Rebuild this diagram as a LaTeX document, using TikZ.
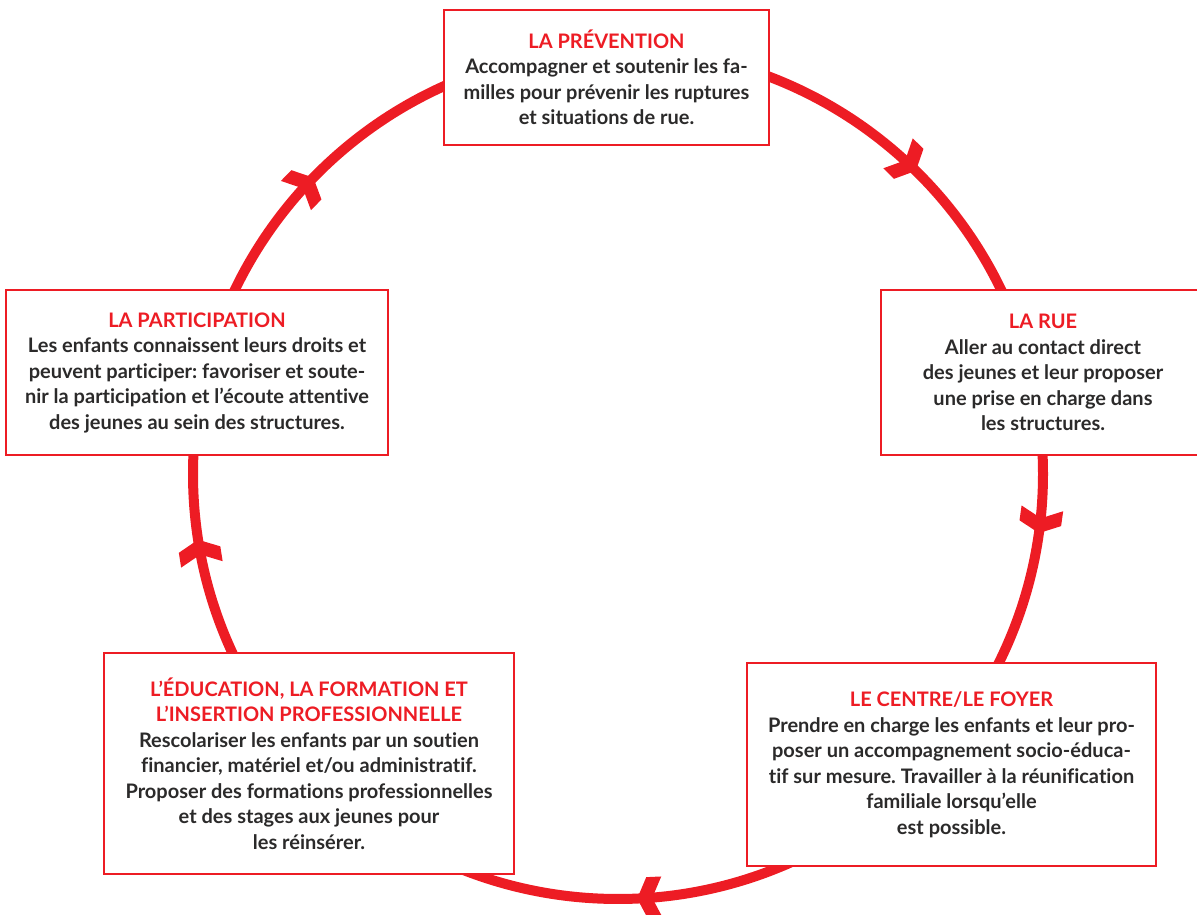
\documentclass[tikz,border=0pt]{standalone}
\usepackage{fontspec}
\setmainfont{Lato}[Ligatures=NoCommon]
\usetikzlibrary{decorations.markings}
\definecolor{rouge}{HTML}{ED1C24}
\definecolor{texte}{HTML}{2B2A2A}
\frenchspacing

\begin{document}
\begin{tikzpicture}[
        x=1pt, y=1pt,
        etape/.style={draw=rouge, line width=2.5pt, fill=white, align=center,
          inner sep=0pt, text=texte,
          font=\fontsize{20}{25.5}\selectfont\bfseries},
        barbe/.pic={\fill[rouge] (0pt,0pt) -- (-10pt,21pt) -- (-25pt,21pt) -- (-15pt,0pt)
          -- (-25pt,-21pt) -- (-10pt,-21pt) -- cycle;},
        decoration={
          markings,
          mark=at position 0.1236 with {\pic[transform shape]{barbe};},
          mark=at position 0.2722 with {\pic[transform shape]{barbe};},
          mark=at position 0.4928 with {\pic[transform shape]{barbe};},
          mark=at position 0.7253 with {\pic[transform shape]{barbe};},
          mark=at position 0.8728 with {\pic[transform shape]{barbe};};
        }]
        % 固定画布大小
        \useasboundingbox (0,0) rectangle (1197,915);
        % 定义圆心
        \coordinate (O) at (618,441);
        % 绘制带箭头的圆（顺时针）
        \draw[rouge, line width=10pt, postaction={decorate}]
          (O) ++(90:425) arc[start angle=90, end angle=-270, radius=425];
        % 上方：预防
        \node[etape, minimum width=325pt, minimum height=135pt] (prevention) at (606.5,837.5)
          {{\color{rouge}LA PRÉVENTION}\\Accompagner et soutenir les fa-\\milles pour prévenir les ruptures\\et situations de rue.};
        % 右侧：街头
        \node[etape, minimum width=324pt, minimum height=165pt] (rue) at (1043,542.5)
          {{\color{rouge}LA RUE}\\Aller au contact direct\\des jeunes et leur proposer\\une prise en charge dans\\les structures.};
        % 右下：中心
        \node[etape, minimum width=409pt, minimum height=203pt] (centre) at (951.5,150.5)
          {{\color{rouge}LE CENTRE/LE FOYER}\\Prendre en charge les enfants et leur pro-\\poser un accompagnement socio-éduca-\\tif sur mesure. Travailler à la réunification\\familiale lorsqu’elle\\est possible.};
        % 左下：教育
        \node[etape, minimum width=410pt, minimum height=221pt] (education) at (309,151.5)
          {{\color{rouge}L’ÉDUCATION, LA FORMATION ET}\\{\color{rouge}L’INSERTION PROFESSIONNELLE}\\Rescolariser les enfants par un soutien\\financier, matériel et/ou administratif.\\Proposer des formations professionnelles\\et des stages aux jeunes pour\\les réinsérer.};
        % 左侧：参与
        \node[etape, minimum width=382pt, minimum height=165pt] (participation) at (197,542.5)
          {{\color{rouge}LA PARTICIPATION}\\Les enfants connaissent leurs droits et\\peuvent participer: favoriser et soute-\\nir la participation et l’écoute attentive\\des jeunes au sein des structures.};
      \end{tikzpicture}
\end{document}
